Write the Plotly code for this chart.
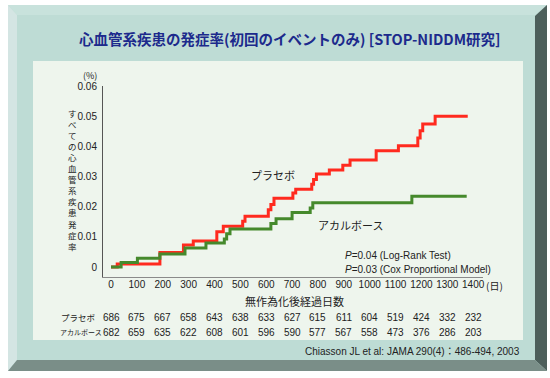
import plotly.graph_objects as go

# ---- data ----
placebo_days = [0, 24, 189, 280, 318, 409, 434, 509, 518, 608, 618, 630, 703, 714, 776, 783, 794, 844, 896, 924, 1025, 1111, 1186, 1195, 1205, 1253, 1379]
placebo_vals = [0, 0.001, 0.0048, 0.0073, 0.0086, 0.0117, 0.0135, 0.0152, 0.0168, 0.0190, 0.0207, 0.0228, 0.0245, 0.0258, 0.0274, 0.0290, 0.0308, 0.0322, 0.0337, 0.0355, 0.0385, 0.0402, 0.0428, 0.0452, 0.0474, 0.0500, 0.0500]
acarbose_days = [0, 39, 102, 189, 286, 367, 438, 447, 460, 618, 638, 700, 770, 780, 1163, 1375]
acarbose_vals = [0, 0.0015, 0.0029, 0.0043, 0.0063, 0.0080, 0.0093, 0.0110, 0.0126, 0.0144, 0.0160, 0.0181, 0.0196, 0.0213, 0.0235, 0.0235]

x_ticks = [0, 100, 200, 300, 400, 500, 600, 700, 800, 900, 1000, 1100, 1200, 1300, 1400]
x_ticktext = ["0", "100", "200", "300", "400", "500", "600", "700", "800", "900", "1000", "1100", "1200", "1300", "1400"]
y_ticks = [0, 0.01, 0.02, 0.03, 0.04, 0.05, 0.06]
y_ticktext = ["0", "0.01", "0.02", "0.03", "0.04", "0.05", "0.06"]

n_placebo = [686, 675, 667, 658, 643, 638, 633, 627, 615, 611, 604, 519, 424, 332, 232]
n_acarbose = [682, 659, 635, 622, 608, 601, 596, 590, 577, 567, 558, 473, 376, 286, 203]

title_text = "心血管系疾患の発症率(初回のイベントのみ) [STOP-NIDDM研究]"
ytitle_text = "すべての心血管系疾患発症率"
xtitle_text = "無作為化後経過日数"
citation = "Chiasson JL et al: JAMA 290(4)：486-494, 2003"

# ---- layout geometry (pixels) ----
W, H = 550, 378
L, R, T, B = 103, 67, 86, 101
PW, PH = W - L - R, H - T - B


def px(x):
    return (x - L) / PW


def py(y):
    return (H - B - y) / PH


JP = "Noto Sans CJK JP"
LAT = "Liberation Sans, Arial, Noto Sans CJK JP"
TXT = "#222"

fig = go.Figure()
fig.add_trace(go.Scatter(x=placebo_days, y=placebo_vals, mode="lines", line=dict(shape="hv", color="#ff2a1f", width=3), hoverinfo="skip", showlegend=False))
fig.add_trace(go.Scatter(x=acarbose_days, y=acarbose_vals, mode="lines", line=dict(shape="hv", color="#45892c", width=3), hoverinfo="skip", showlegend=False))


def poly(pts, color):
    d = "M " + " L ".join(f"{px(a):.5f},{py(b):.5f}" for a, b in pts) + " Z"
    return dict(type="path", path=d, xref="paper", yref="paper", fillcolor=color, line=dict(width=0), layer="below")


shapes = [
    poly([(8, 5), (547, 5), (547, 371), (8, 371)], "#bedcd5"),
    poly([(8, 5), (547, 5), (535, 15), (17, 15)], "#c8e2dc"),
    poly([(8, 5), (17, 15), (17, 360), (8, 371)], "#d4e5e3"),
    poly([(547, 5), (547, 371), (535, 360), (535, 16)], "#4d5f5b"),
    poly([(8, 371), (547, 371), (535, 360), (17, 360)], "#7a8e88"),
    poly([(33, 61), (523, 61), (523, 340), (33, 340)], "#eef5ed"),
]


def note(x, y, text, size, family=JP, anchor="center", xref="paper", color=TXT):
    return dict(x=x, y=y, xref=xref, yref="paper", text=text, showarrow=False,
                font=dict(family=family, size=size, color=color), xanchor=anchor, yanchor="middle")


ann = [
    note(px(290), py(39), "<b>" + title_text + "</b>", 14.5, color="#1c2a8c"),
    note(px(90), py(75), "(%)", 9),
    note(px(72), py(179), "<br>".join(ytitle_text), 8.5),
    note(px(484), py(285), "(日)", 10, anchor="left"),
    note(px(294), py(301), xtitle_text, 11),
    note(px(59), py(317), "プラセボ", 8.5, anchor="left"),
    note(px(58), py(332), "アカルボース", 7, anchor="left"),
    note(px(273), py(175), "プラセボ", 11),
    note(px(350), py(225), "アカルボース", 11),
    note(px(343), py(255), "<i>P</i>=0.04 (Log-Rank Test)", 10, family=LAT, anchor="left"),
    note(px(343), py(269), "<i>P</i>=0.03 (Cox Proportional Model)", 10, family=LAT, anchor="left"),
    note(px(522), py(351), citation, 10, family=LAT, anchor="right"),
]
for xv, n1, n2 in zip(x_ticks, n_placebo, n_acarbose):
    ann.append(note(xv, py(317), str(n1), 10, family=LAT, xref="x"))
    ann.append(note(xv, py(332), str(n2), 10, family=LAT, xref="x"))

fig.update_layout(
    width=W, height=H,
    margin=dict(l=L, r=R, t=T, b=B, pad=0),
    paper_bgcolor="white", plot_bgcolor="rgba(0,0,0,0)",
    shapes=shapes, annotations=ann, showlegend=False,
    xaxis=dict(range=[-31, 1438], tickvals=x_ticks, ticktext=x_ticktext, showgrid=False, zeroline=False,
               showline=True, linecolor="#8a8a8a", linewidth=1, ticks="", ticklabelstandoff=-2,
               tickfont=dict(family=LAT, size=10, color=TXT), fixedrange=True),
    yaxis=dict(range=[-0.0033, 0.06], tickvals=y_ticks, ticktext=y_ticktext, showgrid=False, zeroline=False,
               showline=True, linecolor="#555", linewidth=1, ticks="", ticklabelstandoff=3,
               tickfont=dict(family=LAT, size=10, color=TXT), fixedrange=True),
)

fig.write_html("out.html", config={"displayModeBar": False},
               post_script="document.body.style.margin='0';document.body.style.padding='0';")
